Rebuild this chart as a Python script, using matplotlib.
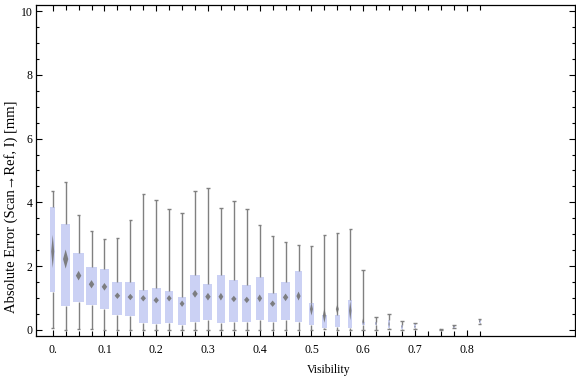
import numpy as np
import matplotlib
matplotlib.use('Agg')
from matplotlib import pyplot as plt
from matplotlib.patches import Polygon

# visibility bins (0.025 steps), None = empty bin
visibility = [0.0, 0.025, 0.05, 0.075, 0.1, 0.125, 0.15, 0.175, 0.2, 0.225,
              0.25, 0.275, 0.3, 0.325, 0.35, 0.375, 0.4, 0.425, 0.45, 0.475,
              0.5, 0.525, 0.55, 0.575, 0.6, 0.625, 0.65, 0.675, 0.7, 0.725,
              0.75, 0.775, 0.8, 0.825]
whisker_lo = [0.05, 0.0, 0.02, 0.02, 0.0, 0.0, 0.0, 0.0, 0.0, 0.0,
              0.0, 0.0, 0.0, 0.0, 0.0, 0.0, 0.0, 0.0, 0.0, 0.0,
              0.0, 0.02, 0.0, 0.0, 0.0, 0.0, 0.03, 0.0, 0.02, None,
              0.0, 0.05, None, 0.19]
q1 = [1.20, 0.76, 0.88, 0.79, 0.64, 0.48, 0.42, 0.23, 0.17, 0.23,
      0.14, 0.26, 0.32, 0.23, 0.26, 0.26, 0.32, 0.26, 0.32, 0.26,
      0.14, 0.07, 0.10, 0.07, 0.14, 0.14, 0.05, 0.03, 0.05, None,
      0.0, 0.06, None, 0.22]
q3 = [3.86, 3.32, 2.41, 1.97, 1.91, 1.50, 1.50, 1.25, 1.32, 1.22,
      1.03, 1.72, 1.44, 1.72, 1.57, 1.41, 1.66, 1.16, 1.50, 1.85,
      0.85, 0.47, 0.47, 0.94, 0.26, 0.26, 0.31, 0.16, 0.18, None,
      0.03, 0.13, None, 0.32]
whisker_hi = [4.37, 4.63, 3.59, 3.10, 2.85, 2.87, 3.45, 4.26, 4.07, 3.78,
              3.67, 4.35, 4.44, 3.81, 4.03, 3.78, 3.28, 2.94, 2.75, 2.65,
              2.62, 2.97, 3.03, 3.16, 1.87, 0.40, 0.50, 0.28, 0.21, None,
              0.03, 0.14, None, 0.34]
mean = [2.46, 2.22, 1.70, 1.43, 1.35, 1.07, 1.03, 0.99, 0.93, 0.99,
        0.82, 1.13, 1.04, 1.04, 0.97, 0.94, 0.99, 0.82, 1.02, 1.06,
        0.65, 0.45, 0.65, 0.60, 0.26, 0.20, 0.18, 0.10, 0.10, None,
        0.02, 0.10, None, 0.27]
mean_ci = [0.52, 0.30, 0.15, 0.13, 0.12, 0.10, 0.10, 0.10, 0.10, 0.10,
           0.10, 0.12, 0.12, 0.12, 0.10, 0.10, 0.12, 0.10, 0.12, 0.14,
           0.20, 0.23, 0.15, 0.30, 0.12, 0.08, 0.10, 0.05, 0.04, None,
           0.02, 0.04, None, 0.05]
# box widths in pixels
box_px = [5, 8.7, 11, 11, 9.3, 10, 10, 9, 9, 8.3,
          8, 10, 9, 8, 9, 9, 8, 9, 9, 7,
          5, 5, 5, 4, 3, 2, 2, 2, 2, 0,
          2, 2, 0, 2]

px = 0.025 / 12.94  # data units per pixel along x
box_col = '#CBD1F4'
gray = '#808080'

plt.rcParams['font.family'] = ['Liberation Serif', 'DejaVu Serif']
plt.rcParams['font.size'] = 8

fig = plt.figure(figsize=(5.76, 3.77), dpi=100)
ax = fig.add_axes([0.0625, 0.109, 0.9355, 0.8785])

for i, x in enumerate(visibility):
    if q1[i] is None:
        continue
    w = box_px[i] * px
    ax.bar(x, q3[i] - q1[i], bottom=q1[i], width=w, color=box_col, zorder=1)
    ax.vlines(x, whisker_lo[i], q1[i], color=gray, lw=1, zorder=2)
    ax.vlines(x, q3[i], whisker_hi[i], color=gray, lw=1, zorder=2)
    cap = 3.5 * px
    ax.hlines([whisker_lo[i], whisker_hi[i]], x - cap / 2, x + cap / 2, color=gray, lw=1, zorder=2)
    dw = min(0.6 * w, 5.5 * px) / 2
    m, h = mean[i], mean_ci[i]
    ax.add_patch(Polygon([(x - dw, m), (x, m + h), (x + dw, m), (x, m - h)],
                         closed=True, color='#747474', alpha=0.9, lw=0, zorder=3))

ax.set_xlim(-0.0323, 1.009)
ax.set_ylim(-0.19, 10.2)

ax.set_xticks(visibility, minor=True)
ax.set_xticks([0.0, 0.1, 0.2, 0.3, 0.4, 0.5, 0.6, 0.7, 0.8])
ax.set_xticklabels(['0.', '0.1', '0.2', '0.3', '0.4', '0.5', '0.6', '0.7', '0.8'])
ax.set_yticks([0, 2, 4, 6, 8, 10])
ax.set_yticks(np.arange(0, 10.01, 0.5), minor=True)
ax.tick_params(which='both', direction='in', top=True, right=True, width=0.8)
ax.tick_params(axis='x', which='major', labelsize=8.5, pad=6)
ax.tick_params(axis='y', which='major', labelsize=8.5, pad=2.5)
ax.tick_params(which='major', length=4)
ax.tick_params(which='minor', length=3.5)
ax.tick_params(axis='y', which='minor', length=2.5)
for s in ax.spines.values():
    s.set_linewidth(0.9)

ax.set_xlabel('Visibility', fontsize=8.5, labelpad=8)
ax.xaxis.set_label_coords(0.544, -0.085)
ax.set_ylabel('Absolute Error (Scan\u2192Ref, I) [mm]', fontsize=10.5)
ax.yaxis.set_label_coords(-0.034, 0.39)

fig.savefig('out.png', dpi=100)
